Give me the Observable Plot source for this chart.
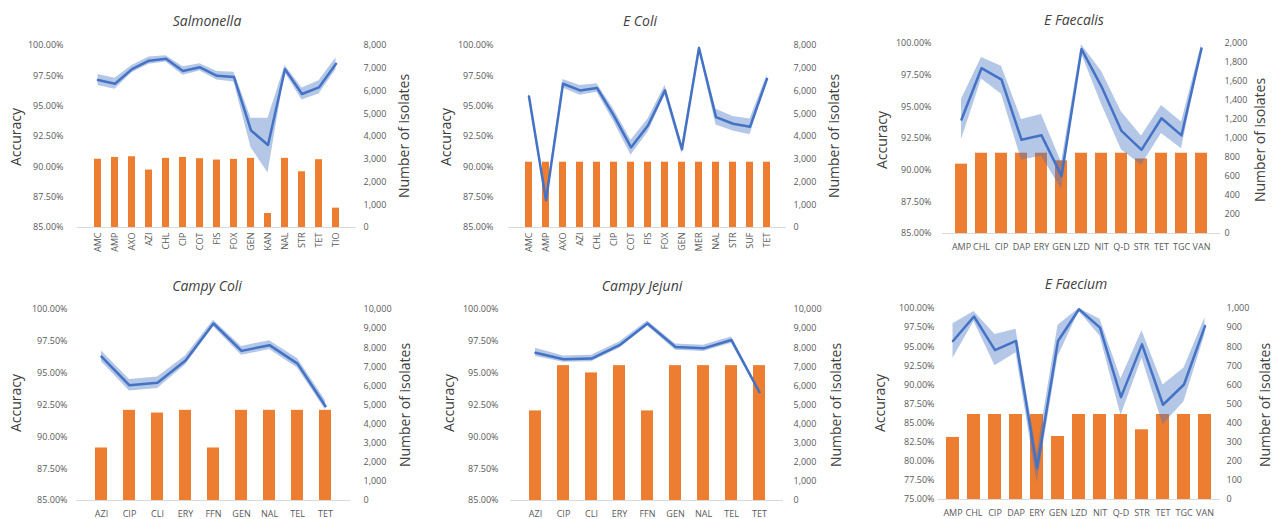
<!DOCTYPE html>
<html><head><meta charset="utf-8">
<script src="https://cdn.jsdelivr.net/npm/d3@7"></script>
<script src="https://cdn.jsdelivr.net/npm/@observablehq/plot@0.6"></script>
<style>
body{margin:0;background:#fff;font-family:"Open Sans",sans-serif;}
#fig{position:relative;width:1284px;height:519px;overflow:hidden;background:#fff;}
.t{position:absolute;font-style:italic;font-size:14px;color:#404040;transform:translate(-50%,-50%);white-space:nowrap;}
.ax{position:absolute;font-size:14px;color:#404040;transform:translate(-50%,-50%) rotate(-90deg);white-space:nowrap;}
.p{position:absolute;}
</style></head><body><div id="fig"></div>
<script>
// ---- Salmonella ----
const salmCats = ["AMC","AMP","AXO","AZI","CHL","CIP","COT","FIS","FOX","GEN","KAN","NAL","STR","TET","TIO"];
const salmAcc = [97.15, 96.85, 98.05, 98.75, 98.9, 97.9, 98.2, 97.5, 97.4, 93.0, 91.8, 98.05, 96.0, 96.55, 98.5];
const salmLo  = [96.7, 96.4, 97.75, 98.45, 98.65, 97.55, 97.9, 97.15, 97.0, 91.6, 89.5, 97.75, 95.5, 96.0, 98.0];
const salmHi  = [97.6, 97.3, 98.35, 99.05, 99.15, 98.25, 98.5, 97.85, 97.8, 94.0, 94.0, 98.35, 96.5, 97.1, 99.0];
const salmN   = [3000, 3080, 3110, 2525, 3040, 3080, 3025, 2965, 2995, 3040, 615, 3040, 2450, 2980, 850];
// ---- E Coli ----
const ecoliCats = ["AMC","AMP","AXO","AZI","CHL","CIP","COT","FIS","FOX","GEN","MER","NAL","STR","SUF","TET"];
const ecoliAcc = [95.8, 87.25, 96.85, 96.3, 96.5, 94.2, 91.6, 93.4, 96.3, 91.45, 99.8, 94.1, 93.55, 93.3, 97.25];
const ecoliLo  = [95.55, 87.0, 96.5, 95.9, 96.15, 93.7, 90.95, 92.85, 95.9, 91.05, 99.6, 93.45, 92.95, 92.65, 96.95];
const ecoliHi  = [96.1, 87.5, 97.2, 96.7, 96.85, 94.7, 92.2, 93.95, 96.7, 91.85, 100.0, 94.75, 94.15, 93.95, 97.55];
const ecoliN   = [2870, 2870, 2870, 2870, 2870, 2870, 2870, 2870, 2870, 2870, 2870, 2870, 2870, 2870, 2870];
// ---- E Faecalis ----
const efsCats = ["AMP","CHL","CIP","DAP","ERY","GEN","LZD","NIT","Q-D","STR","TET","TGC","VAN"];
const efsAcc = [94.0, 98.05, 97.15, 92.4, 92.75, 89.55, 99.55, 96.6, 93.1, 91.6, 94.1, 92.75, 99.6];
const efsLo  = [92.4, 97.2, 96.0, 90.8, 91.1, 88.5, 99.2, 95.2, 91.6, 90.4, 92.9, 91.7, 99.3];
const efsHi  = [95.6, 98.9, 98.2, 94.0, 94.4, 90.6, 99.9, 97.8, 94.6, 92.7, 95.1, 93.8, 99.9];
const efsN   = [730, 845, 845, 845, 845, 765, 845, 845, 845, 785, 845, 845, 845];
// ---- Campy Coli ----
const ccoliCats = ["AZI","CIP","CLI","ERY","FFN","GEN","NAL","TEL","TET"];
const ccoliAcc = [96.3, 94.05, 94.25, 96.0, 98.9, 96.75, 97.2, 95.75, 92.4];
const ccoliLo  = [95.9, 93.6, 93.8, 95.65, 98.65, 96.4, 96.85, 95.4, 92.1];
const ccoliHi  = [96.75, 94.5, 94.7, 96.35, 99.15, 97.1, 97.55, 96.15, 92.85];
const ccoliN   = [2750, 4720, 4580, 4720, 2750, 4720, 4720, 4720, 4720];
// ---- Campy Jejuni ----
const cjejCats = ["AZI","CIP","CLI","ERY","FFN","GEN","NAL","TEL","TET"];
const cjejAcc = [96.6, 96.1, 96.15, 97.2, 98.9, 97.05, 96.95, 97.6, 93.5];
const cjejLo  = [96.3, 95.85, 95.9, 96.95, 98.7, 96.8, 96.7, 97.35, 93.35];
const cjejHi  = [96.95, 96.35, 96.4, 97.45, 99.1, 97.3, 97.2, 97.85, 93.65];
const cjejN   = [4690, 7060, 6680, 7060, 4690, 7060, 7060, 7060, 7060];
// ---- E Faecium ----
const efmCats = ["AMP","CHL","CIP","DAP","ERY","GEN","LZD","NIT","Q-D","STR","TET","TGC","VAN"];
const efmAcc = [95.75, 98.95, 94.55, 95.75, 79.1, 95.75, 99.9, 97.5, 88.4, 95.3, 87.4, 90.05, 97.7];
const efmLo  = [93.5, 98.3, 92.5, 94.2, 77.2, 93.7, 99.6, 96.4, 86.0, 93.5, 84.8, 87.8, 96.6];
const efmHi  = [98.0, 99.6, 96.6, 97.3, 81.0, 97.8, 100.0, 98.6, 90.8, 97.1, 90.0, 92.2, 98.8];
const efmN   = [325, 445, 445, 445, 445, 330, 445, 445, 445, 365, 445, 445, 445];

const panels = [
  {name:"Salmonella", cats:salmCats, acc:salmAcc, lo:salmLo, hi:salmHi, n:salmN, accMin:85, nMax:8000, nStep:1000, rotate:true},
  {name:"E Coli", cats:ecoliCats, acc:ecoliAcc, lo:ecoliLo, hi:ecoliHi, n:ecoliN, accMin:85, nMax:8000, nStep:1000, rotate:true},
  {name:"E Faecalis", cats:efsCats, acc:efsAcc, lo:efsLo, hi:efsHi, n:efsN, accMin:85, nMax:2000, nStep:200, rotate:false},
  {name:"Campy Coli", cats:ccoliCats, acc:ccoliAcc, lo:ccoliLo, hi:ccoliHi, n:ccoliN, accMin:85, nMax:10000, nStep:1000, rotate:false},
  {name:"Campy Jejuni", cats:cjejCats, acc:cjejAcc, lo:cjejLo, hi:cjejHi, n:cjejN, accMin:85, nMax:10000, nStep:1000, rotate:false},
  {name:"E Faecium", cats:efmCats, acc:efmAcc, lo:efmLo, hi:efmHi, n:efmN, accMin:75, nMax:1000, nStep:100, rotate:false}
];

const layouts = [
  {left:0, right:430, top:30, bottom:260, plotL:77, plotR:356, plotT:45, plotB:227, padL:14, padR:7, padX:5, pad:0.6,
   title:[207,20], accT:[15,137], nT:[403,136]},
  {left:430, right:855, top:30, bottom:260, plotL:508, plotR:786, plotT:45, plotB:227, padL:15, padR:7, padX:5, pad:0.6,
   title:[640,20], accT:[445,137], nT:[833,136]},
  {left:855, right:1284, top:30, bottom:260, plotL:942, plotR:1220, plotT:43, plotB:233, padL:11, padR:4, padX:10, pad:0.38,
   title:[1074,19], accT:[881,140], nT:[1259,140]},
  {left:0, right:430, top:290, bottom:519, plotL:76, plotR:350, plotT:309, plotB:500, padL:9, padR:13, padX:10, pad:0.58,
   title:[207,285], accT:[15,403], nT:[404,405]},
  {left:430, right:855, top:290, bottom:519, plotL:510, plotR:783, plotT:309, plotB:500, padL:12, padR:10, padX:10, pad:0.58,
   title:[642,285], accT:[448,403], nT:[835,405]},
  {left:855, right:1284, top:290, bottom:519, plotL:938, plotR:1220, plotT:308, plotB:499, padL:4, padR:6, padX:10, pad:0.38,
   title:[1076,283], accT:[879,403], nT:[1264,405]}
];

const fig = document.getElementById("fig");
const fmtN = d3.format(",");

panels.forEach((d, k) => {
  const L = layouts[k];
  const rows = d.cats.map((c, i) => ({c, acc: d.acc[i], lo: d.lo[i], hi: d.hi[i], n: d.n[i]}));
  const span = 100 - d.accMin;
  const toAcc = v => d.accMin + v / d.nMax * span;
  const nTicks = d3.range(0, d.nMax + 1, d.nStep).map(toAcc);
  const accTicks = d3.range(d.accMin, 100.001, 2.5);
  const svg = Plot.plot({
    width: L.right - L.left,
    height: L.bottom - L.top,
    marginLeft: L.plotL - L.left,
    marginRight: L.right - L.plotR,
    marginTop: L.plotT - L.top,
    marginBottom: L.bottom - L.plotB,
    style: {fontFamily: "'Open Sans', sans-serif", fontSize: "9px", color: "#595959", background: "transparent", overflow: "visible"},
    x: {domain: d.cats, padding: L.pad},
    y: {domain: [d.accMin, 100]},
    marks: [
      Plot.axisX({tickSize: 0, tickPadding: L.padX, tickRotate: d.rotate ? -90 : 0, label: null, fill: "#595959"}),
      Plot.axisY(accTicks, {anchor: "left", tickSize: 0, tickPadding: L.padL, tickFormat: v => v.toFixed(2) + "%", label: null}),
      Plot.axisY(nTicks, {anchor: "right", tickSize: 0, tickPadding: L.padR,
        tickFormat: v => fmtN(Math.round((v - d.accMin) / span * d.nMax)), label: null}),
      Plot.ruleY([d.accMin], {stroke: "#d9d9d9"}),
      Plot.barY(rows, {x: "c", y1: d.accMin, y2: r => toAcc(r.n), fill: "#ED7D31"}),
      Plot.areaY(rows, {x: "c", y1: "lo", y2: "hi", fill: "#4472C4", fillOpacity: 0.4}),
      Plot.lineY(rows, {x: "c", y: "acc", stroke: "#4472C4", strokeWidth: 2.5})
    ]
  });
  svg.classList.add("p");
  svg.style.left = L.left + "px";
  svg.style.top = L.top + "px";
  fig.appendChild(svg);

  const t = document.createElement("div");
  t.className = "t"; t.textContent = d.name;
  t.style.left = L.title[0] + "px"; t.style.top = L.title[1] + "px";
  fig.appendChild(t);
  const a = document.createElement("div");
  a.className = "ax"; a.textContent = "Accuracy";
  a.style.left = L.accT[0] + "px"; a.style.top = L.accT[1] + "px";
  fig.appendChild(a);
  const b = document.createElement("div");
  b.className = "ax"; b.textContent = "Number of isolates";
  b.style.left = L.nT[0] + "px"; b.style.top = L.nT[1] + "px";
  fig.appendChild(b);
});
</script></body></html>
